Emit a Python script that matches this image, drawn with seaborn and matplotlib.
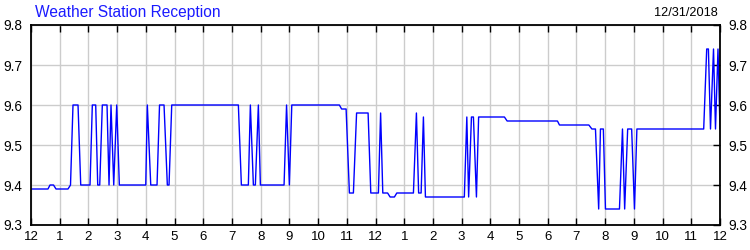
import matplotlib
matplotlib.use("Agg")
import matplotlib.pyplot as plt
import seaborn as sns
import pandas as pd

title = "Weather Station Reception"
date_label = "12/31/2018"

hours = [0.0, 0.592, 0.662, 0.784, 0.871, 1.289, 1.376, 1.463, 1.638, 1.732,
         2.056, 2.136, 2.254, 2.324, 2.394, 2.484, 2.648, 2.718, 2.787, 2.882,
         2.986, 3.077, 3.997, 4.052, 4.171, 4.390, 4.477, 4.634, 4.749, 4.808,
         4.902, 7.223, 7.328, 7.571, 7.641, 7.746, 7.815, 7.920, 7.990, 8.815,
         8.902, 9.000, 9.084, 10.742, 10.819, 10.976, 11.091, 11.230, 11.341, 11.742,
         11.836, 12.101, 12.178, 12.254, 12.422, 12.509, 12.659, 12.742, 13.321, 13.425,
         13.502, 13.589, 13.669, 13.739, 15.094, 15.181, 15.244, 15.342, 15.411, 15.516,
         15.592, 16.491, 16.585, 18.338, 18.408, 19.432, 19.537, 19.662, 19.774, 19.836,
         19.937, 20.010, 20.498, 20.603, 20.679, 20.784, 20.923, 21.021, 21.105, 23.432,
         23.537, 23.596, 23.669, 23.774, 23.843, 23.930, 24.0]

values = [9.39, 9.39, 9.40, 9.40, 9.39, 9.39, 9.40, 9.60, 9.60, 9.40,
          9.40, 9.60, 9.60, 9.40, 9.40, 9.60, 9.60, 9.40, 9.60, 9.40,
          9.60, 9.40, 9.40, 9.60, 9.40, 9.40, 9.60, 9.60, 9.40, 9.40,
          9.60, 9.60, 9.40, 9.40, 9.60, 9.40, 9.40, 9.60, 9.40, 9.40,
          9.60, 9.40, 9.60, 9.60, 9.59, 9.59, 9.38, 9.38, 9.58, 9.58,
          9.38, 9.38, 9.58, 9.38, 9.38, 9.37, 9.37, 9.38, 9.38, 9.58,
          9.38, 9.38, 9.57, 9.37, 9.37, 9.57, 9.37, 9.57, 9.57, 9.37,
          9.57, 9.57, 9.56, 9.56, 9.55, 9.55, 9.54, 9.54, 9.34, 9.54,
          9.54, 9.34, 9.34, 9.54, 9.34, 9.54, 9.54, 9.34, 9.54, 9.54,
          9.74, 9.74, 9.54, 9.74, 9.54, 9.74, 9.54]

x_ticks = list(range(0, 25))
x_tick_labels = ["12", "1", "2", "3", "4", "5", "6", "7", "8", "9", "10", "11",
                 "12", "1", "2", "3", "4", "5", "6", "7", "8", "9", "10", "11", "12"]
y_ticks = [9.3, 9.4, 9.5, 9.6, 9.7, 9.8]

df = pd.DataFrame({"hour": hours, "value": values})

sns.set_theme(style="white")
plt.rcParams["font.family"] = ["Liberation Sans", "DejaVu Sans"]

fig = plt.figure(figsize=(7.5, 2.5), dpi=100)
ax = fig.add_axes([31 / 750, 0.1, (720 - 31) / 750, 0.8])

sns.lineplot(data=df, x="hour", y="value", sort=False, estimator=None,
             color="#0000ff", linewidth=1.0, ax=ax)

ax.set_xlim(0, 24)
ax.set_ylim(9.3, 9.8)
ax.set_xticks(x_ticks)
ax.set_xticklabels(x_tick_labels, fontsize=9.5, color="black")
ax.set_yticks(y_ticks)
ax.set_yticklabels([f"{v:.1f}" for v in y_ticks], fontsize=9.8, color="black")
ax.set_xlabel("")
ax.set_ylabel("")

ax.grid(True, color="#cccccc", linewidth=1.0)
ax.set_axisbelow(True)
for sp in ax.spines.values():
    sp.set_color("black")
    sp.set_linewidth(1.3)
    sp.set_visible(True)

ax.tick_params(axis="x", which="both", direction="in", length=5, width=1,
               color="black", top=True, bottom=True, pad=4)
ax.tick_params(axis="y", which="both", direction="in", length=5, width=1,
               color="black", left=False, right=True, labelleft=True,
               labelright=True, pad=6)

fig.text(35 / 750, 1 - 12 / 250, title, color="#1a1aff", fontsize=11.2,
         ha="left", va="center")
fig.text(718 / 750, 1 - 13 / 250, date_label, color="black", fontsize=9.2,
         ha="right", va="center")

fig.savefig("out.png", dpi=100)
